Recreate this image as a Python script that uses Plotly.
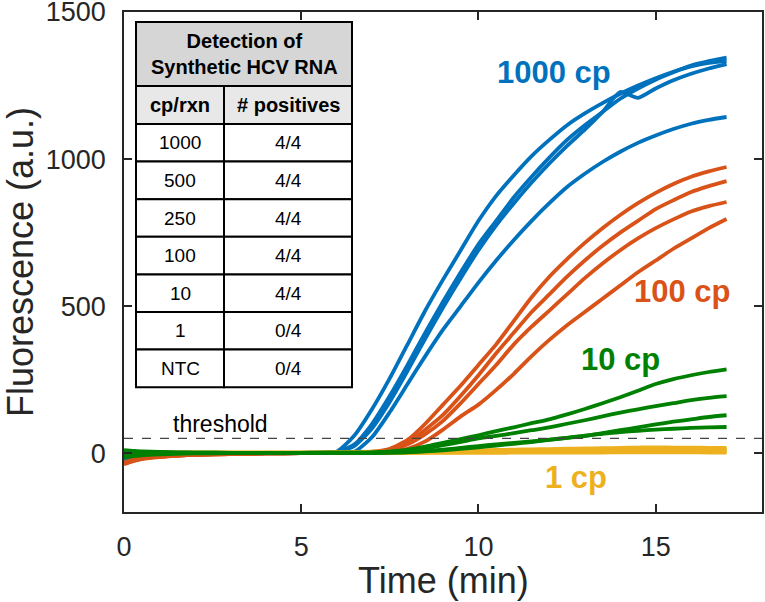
import plotly.graph_objects as go

# time axis (min), shared by all traces
time = [0, 0.25, 0.5, 1, 1.5, 2, 3, 4, 5, 5.5, 6, 6.5, 7, 7.5, 8, 8.5, 9, 9.5,
        10, 10.5, 11, 11.5, 12, 12.5, 13, 13.5, 14, 14.5, 15, 15.5, 16, 16.5, 17]

# 1000 cp
cp1000 = [
    [-25, -18, -14, -9, -6, -4, -2, 0, 1, 2, 5, 60, 150, 255, 370, 485, 590, 690,
     790, 875, 945, 1010, 1065, 1115, 1155, 1190, 1222, 1250, 1275, 1297, 1315, 1327, 1333],
    [-28, -20, -15, -10, -6, -4, -2, 0, 1, 2, 3, 30, 100, 195, 300, 410, 515, 615,
     710, 790, 870, 940, 1005, 1065, 1115, 1160, 1205, 1240, 1270, 1295, 1318, 1333, 1345],
    [-22, -16, -12, -8, -5, -3, -1, 0, 1, 1, 2, 25, 85, 175, 280, 390, 495, 595,
     690, 775, 850, 920, 985, 1045, 1100, 1160, 1228, 1208, 1240, 1268, 1290, 1308, 1323],
    [-30, -22, -16, -10, -7, -4, -2, -1, 0, 1, 2, 5, 55, 140, 235, 330, 420, 500,
     580, 655, 725, 790, 850, 905, 950, 990, 1025, 1055, 1080, 1102, 1120, 1133, 1143],
]
# 100 cp
cp100 = [
    [-35, -25, -18, -12, -8, -6, -3, -1, 0, 0, 0, 2, 5, 15, 45, 100, 165, 230,
     300, 370, 450, 530, 600, 660, 715, 765, 810, 850, 885, 915, 940, 958, 973],
    [-38, -27, -20, -13, -9, -6, -3, -1, 0, 0, 0, 1, 4, 10, 35, 80, 130, 195,
     265, 340, 410, 480, 540, 600, 655, 705, 750, 790, 830, 860, 888, 908, 925],
    [-32, -23, -17, -11, -8, -5, -3, -1, 0, 0, 0, 1, 3, 8, 30, 65, 110, 170,
     235, 300, 370, 430, 485, 540, 595, 645, 690, 730, 765, 795, 822, 840, 854],
    [-36, -26, -19, -12, -8, -6, -3, -1, 0, 0, 0, 0, 2, 3, 15, 40, 80, 125,
     165, 215, 270, 330, 385, 435, 480, 525, 570, 615, 655, 695, 730, 765, 796],
]
# 10 cp
cp10 = [
    [10, 8, 6, 4, 3, 2, 1, 0, 1, 2, 2, 2, 3, 6, 12, 22, 35, 48,
     61, 75, 88, 102, 115, 132, 150, 170, 190, 212, 235, 252, 265, 276, 285],
    [5, 4, 4, 3, 2, 2, 1, 0, 1, 1, 2, 2, 2, 4, 8, 16, 27, 38,
     50, 59, 68, 78, 88, 100, 112, 125, 138, 149, 160, 170, 180, 188, 194],
    [-5, -3, -2, -1, 0, 0, 0, 0, 0, 1, 1, 1, 1, 2, 4, 7, 12, 18,
     24, 30, 35, 40, 46, 52, 58, 68, 78, 88, 98, 107, 115, 123, 129],
    [-15, -10, -7, -4, -2, -1, 0, 0, 0, 1, 1, 1, 1, 2, 3, 6, 10, 15,
     20, 26, 32, 38, 45, 52, 60, 66, 72, 76, 80, 83, 86, 88, 89],
]
# 1 cp
cp1 = [
    [0, 2, 3, 3, 3, 3, 3, 3, 3, 3, 4, 4, 5, 5, 6, 7, 8, 9,
     10, 11, 12, 13, 14, 15, 16, 17, 18, 19, 20, 19, 19, 18, 18],
    [-5, -2, 0, 1, 1, 2, 2, 2, 2, 2, 2, 3, 3, 3, 4, 4, 5, 6,
     7, 8, 8, 9, 10, 10, 11, 12, 12, 13, 13, 13, 13, 12, 12],
    [-8, -5, -3, -1, 0, 0, 1, 1, 1, 1, 1, 1, 2, 2, 2, 2, 3, 3,
     4, 4, 5, 5, 5, 6, 6, 7, 7, 7, 8, 8, 8, 7, 7],
    [-10, -6, -4, -2, -1, 0, 0, 0, 0, 0, 0, 0, 0, 0, 0, 1, 1, 1,
     1, 1, 2, 2, 2, 2, 2, 2, 3, 3, 3, 3, 3, 2, 2],
]

threshold = 50

# inset table
table_title = "Detection of<br>Synthetic HCV RNA"
table_cols = ["cp/rxn", "# positives"]
cp_per_rxn = ["1000", "500", "250", "100", "10", "1", "NTC"]
positives = ["4/4", "4/4", "4/4", "4/4", "4/4", "0/4", "0/4"]

# curve labels: text, x, y
group_labels = ["1000 cp", "100 cp", "10 cp", "1 cp"]
label_x = [12.13, 15.76, 14.0, 12.76]
label_y = [1296, 551, 320, -82]

blue, orange, yellow, green = "#0072BD", "#D95319", "#EDB120", "#008000"
ink = "#262626"
FONT = "Liberation Sans, Arial, sans-serif"

fig = go.Figure()
for group, col in [(cp1000, blue), (cp100, orange), (cp1, yellow), (cp10, green)]:
    for y in group:
        fig.add_trace(go.Scatter(x=time, y=y, mode="lines",
                                 line=dict(color=col, width=3.8, shape="spline", smoothing=0.6),
                                 showlegend=False, hoverinfo="skip"))

fig.add_shape(type="line", xref="paper", x0=0, x1=1, y0=threshold, y1=threshold,
              line=dict(color="#444", width=1.2, dash="dash"))
fig.add_annotation(x=2.72, y=threshold + 49, text="threshold", showarrow=False,
                   font=dict(size=23, color="black", family=FONT))

for txt, xx, yy, col in zip(group_labels, label_x, label_y, [blue, orange, green, yellow]):
    fig.add_annotation(x=xx, y=yy, text="<b>%s</b>" % txt, showarrow=False,
                       font=dict(size=31, color=col, family=FONT))

# table drawn in pixel space, converted to paper coords
L, R, T, B = 124, 762, 12, 512
def px(x):
    return (x - L) / (R - L)
def py(y):
    return (B - y) / (B - T)

tx0, tx1, tmid = 136, 352, 224
ty0, ty1, ty2 = 22, 86, 124
row_h = 37.6

def cell(x0, x1, y0, y1, fill):
    fig.add_shape(type="rect", xref="paper", yref="paper",
                  x0=px(x0), x1=px(x1), y0=py(y1), y1=py(y0),
                  fillcolor=fill, line=dict(color="black", width=2))

def text(x, y, s, size=19, bold=False):
    fig.add_annotation(xref="paper", yref="paper", x=px(x), y=py(y),
                       xanchor="center", yanchor="middle",
                       text="<b>%s</b>" % s if bold else s, showarrow=False,
                       font=dict(size=size, color="black", family=FONT))

cell(tx0, tx1, ty0, ty1, "#d6d6d6")
text((tx0 + tx1) / 2, (ty0 + ty1) / 2, table_title, size=20, bold=True)
cell(tx0, tmid, ty1, ty2, "#e8e8e8")
cell(tmid, tx1, ty1, ty2, "#e8e8e8")
text((tx0 + tmid) / 2, (ty1 + ty2) / 2, table_cols[0], size=20, bold=True)
text((tmid + tx1) / 2, (ty1 + ty2) / 2, table_cols[1], size=20, bold=True)
for i, (a, b) in enumerate(zip(cp_per_rxn, positives)):
    r0 = ty2 + i * row_h
    cell(tx0, tmid, r0, r0 + row_h, "white")
    cell(tmid, tx1, r0, r0 + row_h, "white")
    text((tx0 + tmid) / 2, r0 + row_h / 2, a)
    text((tmid + tx1) / 2, r0 + row_h / 2, b)

# x-axis title placed as annotation so it can sit a bit closer to the tick labels
fig.add_annotation(xref="paper", yref="paper", x=0.5, y=py(580),
                   xanchor="center", yanchor="middle", showarrow=False,
                   text="Time (min)", font=dict(size=36, color=ink, family=FONT))

axis_common = dict(showline=True, linecolor=ink, linewidth=1.5, mirror="ticks",
                   ticks="inside", ticklen=8, tickwidth=1.5, tickcolor=ink,
                   showgrid=False, zeroline=False, automargin=False,
                   ticklabeloverflow="allow",
                   tickfont=dict(size=27, color=ink, family=FONT))
fig.update_xaxes(range=[0, 18], tickvals=[0, 5, 10, 15], ticklabelstandoff=10,
                 **axis_common)
fig.update_yaxes(range=[-200, 1500], tickvals=[0, 500, 1000, 1500], ticklabelstandoff=11,
                 title=dict(text="Fluorescence (a.u.)", standoff=17,
                            font=dict(size=36, color=ink, family=FONT)),
                 **axis_common)
fig.update_layout(width=765, height=602, margin=dict(l=L, r=765 - R, t=T, b=602 - B),
                  plot_bgcolor="white", paper_bgcolor="white")
fig.write_html("out.html", config={"displayModeBar": False},
               post_script="document.body.style.margin='0';document.body.style.overflow='hidden';")
